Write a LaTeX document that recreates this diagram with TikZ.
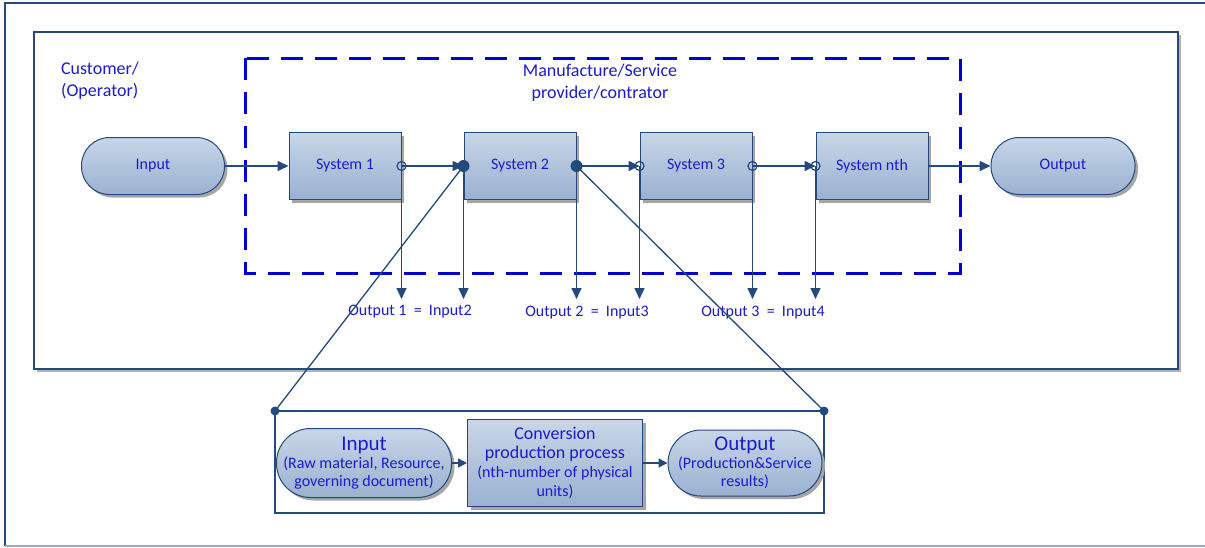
\documentclass[tikz,border=0pt]{standalone}
\usepackage{fontspec}
\setmainfont{Carlito}
\usepackage{tikz}
\usetikzlibrary{arrows.meta,positioning,shapes,calc,shadows}

\definecolor{lineblue}{RGB}{36,73,125}
\definecolor{txtblue}{RGB}{28,28,205}
\definecolor{dashblue}{RGB}{0,0,210}
\definecolor{filltop}{RGB}{200,214,232}
\definecolor{fillbot}{RGB}{154,177,208}
\definecolor{framelight}{RGB}{150,172,205}

\tikzset{
    sysbox/.style={draw=lineblue, line width=1pt, top color=filltop, bottom color=fillbot,
        drop shadow={shadow xshift=3pt, shadow yshift=-3pt, fill=gray!70, opacity=1},
        minimum width=112pt, minimum height=67pt, text=txtblue, font=\fontsize{16}{19}\selectfont},
    termbox/.style={sysbox, rounded corners=28pt, minimum width=143pt, minimum height=57pt},
    flow/.style={line width=1.6pt, draw=lineblue, -{Triangle[length=11pt,width=10pt]}},
    link/.style={line width=1.3pt, draw=lineblue},
    opendot/.style={draw=lineblue, line width=1.2pt, fill=none},
    label/.style={text=txtblue, font=\fontsize{18}{22}\selectfont, align=left}
}

\begin{document}
\begin{tikzpicture}[x=1pt, y=-1pt]
    \useasboundingbox (0,0) rectangle (1205,547);

    % Outer frame
    \draw[lineblue, line width=1.5pt] (1210,3) -- (5,3) -- (5,546);
    \draw[framelight, line width=1.5pt] (5,546) -- (1210,546);

    % Customer box
    \fill[gray!60] (37,35) rectangle (1181,372);
    \filldraw[draw=lineblue, fill=white, line width=1.8pt] (34,32) rectangle (1178,369);
    \node[label] (cust) at (100,81) {Customer/\\(Operator)};

    % Provider (dashed)
    \draw[dashblue, line width=3pt, dash pattern=on 22pt off 12pt] (245,58) rectangle (960,273);
    \node[label, align=center] (prov) at (600,83) {Manufacture/Service\\provider/contrator};

    % Chain of systems
    \node[termbox] (in) at (153,166) {Input};
    \node[sysbox] (s1) at (345,166) {System 1};
    \node[sysbox] (s2) at (520,166) {System 2};
    \node[sysbox] (s3) at (696,166) {System 3};
    \node[sysbox] (sn) at (872,166) {System nth};
    \node[termbox, minimum width=144pt] (out) at (1063,166) {Output};

    \draw[flow] (in.east) -- (s1.west);
    \draw[flow] (s1.east) -- (s2.west);
    \draw[flow] (s2.east) -- (s3.west);
    \draw[flow] (s3.east) -- (sn.west);
    \draw[flow] (sn.east) -- (out.west);

    % Drops
    \coordinate (lvl) at (0,299);
    \foreach \p in {s1.east, s2.west, s2.east, s3.west, s3.east, sn.west}
        \draw[flow, line width=1.3pt] (\p) -- (\p |- lvl);

    \foreach \p in {s1.east, s3.west, s3.east, sn.west}
        \draw[opendot] (\p) circle (4.5pt);
    \foreach \p in {s2.west, s2.east}
        \fill[lineblue] (\p) circle (6pt);

    \node[label, font=\fontsize{16}{19}\selectfont] (eq1) at (410,312) {Output 1~~=~~Input2};
    \node[label, font=\fontsize{16}{19}\selectfont] (eq2) at (587,313) {Output 2~~=~~Input3};
    \node[label, font=\fontsize{16}{19}\selectfont] (eq3) at (763,313) {Output 3~~=~~Input4};

    % Zoomed system
    \coordinate (zl) at (275,411);
    \coordinate (zr) at (824,411);
    \draw[link] (zl) rectangle (824,513);
    \draw[link] (s2.west) -- (zl);
    \draw[link] (s2.east) -- (zr);
    \fill[lineblue] (zl) circle (4.5pt);
    \fill[lineblue] (zr) circle (4.5pt);

    \node[termbox, rounded corners=34pt, minimum width=175pt, minimum height=69pt, inner sep=1pt,
        align=center, font=\fontsize{16}{18}\selectfont] (bin) at (364,463)
        {{\fontsize{21}{22}\selectfont Input}\\(Raw material, Resource,\\governing document)};
    \node[sysbox, minimum width=175pt, minimum height=87pt, inner sep=1pt,
        align=center, font=\fontsize{16}{19}\selectfont] (conv) at (555,463)
        {{\fontsize{18}{20}\selectfont Conversion}\\{\fontsize{18}{21}\selectfont production process}\\(nth-number of physical\\units)};
    \node[termbox, rounded corners=33pt, minimum width=154pt, minimum height=66pt, inner sep=1pt,
        align=center, font=\fontsize{16}{18}\selectfont] (bout) at (745,463)
        {{\fontsize{21}{22}\selectfont Output}\\(Production\&Service\\results)};

    \draw[flow, -{Triangle[length=9pt,width=9pt]}] (bin.east) -- (conv.west);
    \draw[flow, -{Triangle[length=9pt,width=9pt]}] (conv.east) -- (bout.west);
\end{tikzpicture}
\end{document}
